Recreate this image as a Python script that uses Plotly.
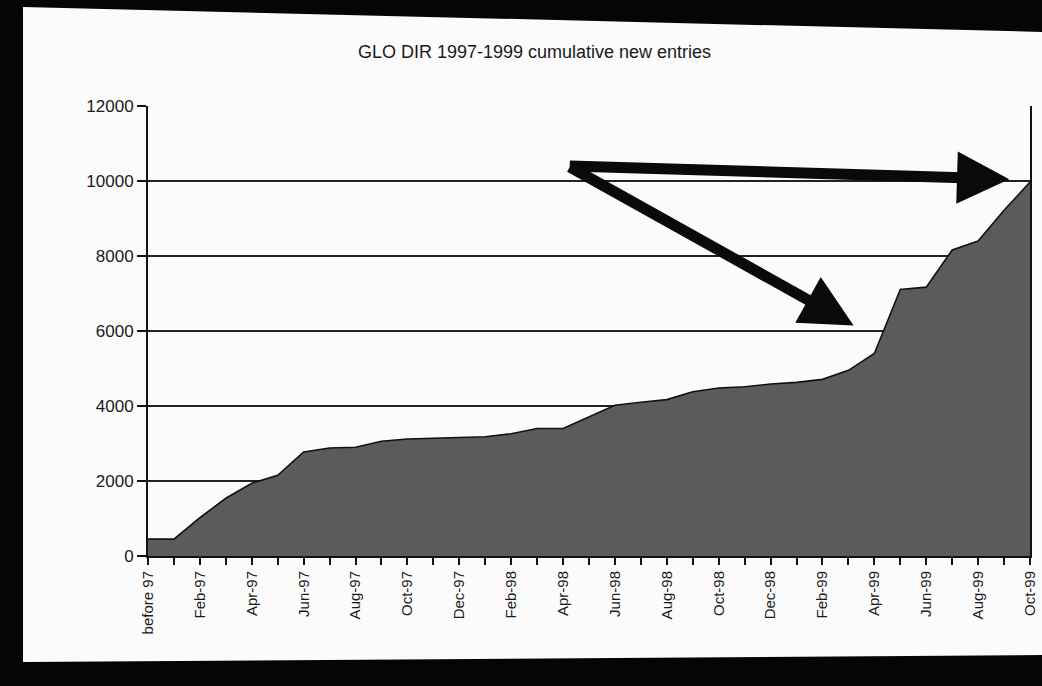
import plotly.graph_objects as go

# ---- data ----
months = ["before 97",
          "Jan-97", "Feb-97", "Mar-97", "Apr-97", "May-97", "Jun-97", "Jul-97", "Aug-97",
          "Sep-97", "Oct-97", "Nov-97", "Dec-97",
          "Jan-98", "Feb-98", "Mar-98", "Apr-98", "May-98", "Jun-98", "Jul-98", "Aug-98",
          "Sep-98", "Oct-98", "Nov-98", "Dec-98",
          "Jan-99", "Feb-99", "Mar-99", "Apr-99", "May-99", "Jun-99", "Jul-99", "Aug-99",
          "Sep-99", "Oct-99"]
cumulative_entries = [450, 450, 1020, 1540, 1940, 2150, 2775, 2880, 2900, 3060, 3120, 3140,
                      3180, 3180, 3260, 3400, 3400, 3710, 4020, 4100, 4170, 4380, 4480, 4515,
                      4585, 4630, 4710, 4950, 5400, 7110, 7170, 8160, 8400, 9220, 9970]
y_ticks = [0, 2000, 4000, 6000, 8000, 10000, 12000]
title_text = "GLO DIR 1997-1999 cumulative new entries"

# arrow annotations (tail -> tip), in data units
arrow_tails = [(16.2, 10400), (16.2, 10400)]
arrow_tips = [(33.2, 10050), (27.2, 6150)]

xpos = list(range(len(months)))
label_idx = xpos[::2]

FONT = "Liberation Sans, Arial, sans-serif"

fig = go.Figure()
fig.add_trace(go.Scatter(
    x=xpos, y=cumulative_entries, mode="lines",
    line=dict(color="#111111", width=1.6),
    fill="tozeroy", fillcolor="#5b5b5b",
    hoverinfo="x+y", showlegend=False,
))

for (ax, ay), (x, y) in zip(arrow_tails, arrow_tips):
    fig.add_annotation(
        x=x, y=y, ax=ax, ay=ay, xref="x", yref="y", axref="x", ayref="y",
        text="", showarrow=True, arrowhead=2, arrowsize=0.95, arrowwidth=11,
        arrowcolor="#0a0a0a", standoff=0, startstandoff=0,
    )

# slide (white paper photographed on black)
W_L, W_R, P_T, P_B = 148, 1030, 106, 556
def px(xp):
    return (xp - W_L) / (W_R - W_L)
def py(yp):
    return (P_B - yp) / (P_B - P_T)
slide = [(23, 7), (1045, 32), (1045, 655), (23, 662)]
path = "M " + " L ".join(f"{px(a):.4f},{py(b):.4f}" for a, b in slide) + " Z"
fig.add_shape(type="path", path=path, xref="paper", yref="paper",
              fillcolor="#fbfbfb", line=dict(width=0), layer="below")

fig.update_layout(
    width=1042, height=686, autosize=False,
    margin=dict(l=W_L, r=1042 - W_R, t=P_T, b=686 - P_B, autoexpand=False),
    paper_bgcolor="#050505", plot_bgcolor="rgba(0,0,0,0)",
    font=dict(family=FONT, color="#1a1a1a"),
    title=dict(text=title_text, x=0.513, xref="container", xanchor="center",
               y=1 - 52 / 686, yref="container", yanchor="middle",
               font=dict(size=18, family=FONT, color="#1a1a1a")),
    showlegend=False,
)
fig.update_xaxes(
    range=[0, len(months) - 1], tickmode="array", tickvals=label_idx,
    ticktext=[months[i] for i in label_idx], tickangle=-90,
    tickfont=dict(size=15, family=FONT, color="#1a1a1a"),
    ticks="outside", ticklen=7, tickwidth=1.5, tickcolor="#111",
    minor=dict(dtick=1, ticks="outside", ticklen=7, tickwidth=1.5, tickcolor="#111"),
    showgrid=False, zeroline=False, automargin=False,
    showline=True, linecolor="#111", linewidth=2, mirror=False,
)
fig.update_yaxes(
    range=[0, 12000], tickmode="array", tickvals=y_ticks,
    ticktext=[str(v) for v in y_ticks],
    tickfont=dict(size=17, family=FONT, color="#1a1a1a"),
    ticks="outside", ticklen=9, tickwidth=1.5, tickcolor="#111",
    showgrid=True, gridcolor="#222", gridwidth=1.5, zeroline=False, automargin=False,
    showline=True, linecolor="#111", linewidth=2, mirror=True,
)

fig.write_html(
    "out.html",
    config={"displayModeBar": False, "responsive": False},
    post_script=("document.body.style.margin='0';"
                 "document.body.style.background='#050505';"
                 "document.documentElement.style.overflow='hidden';"),
)
